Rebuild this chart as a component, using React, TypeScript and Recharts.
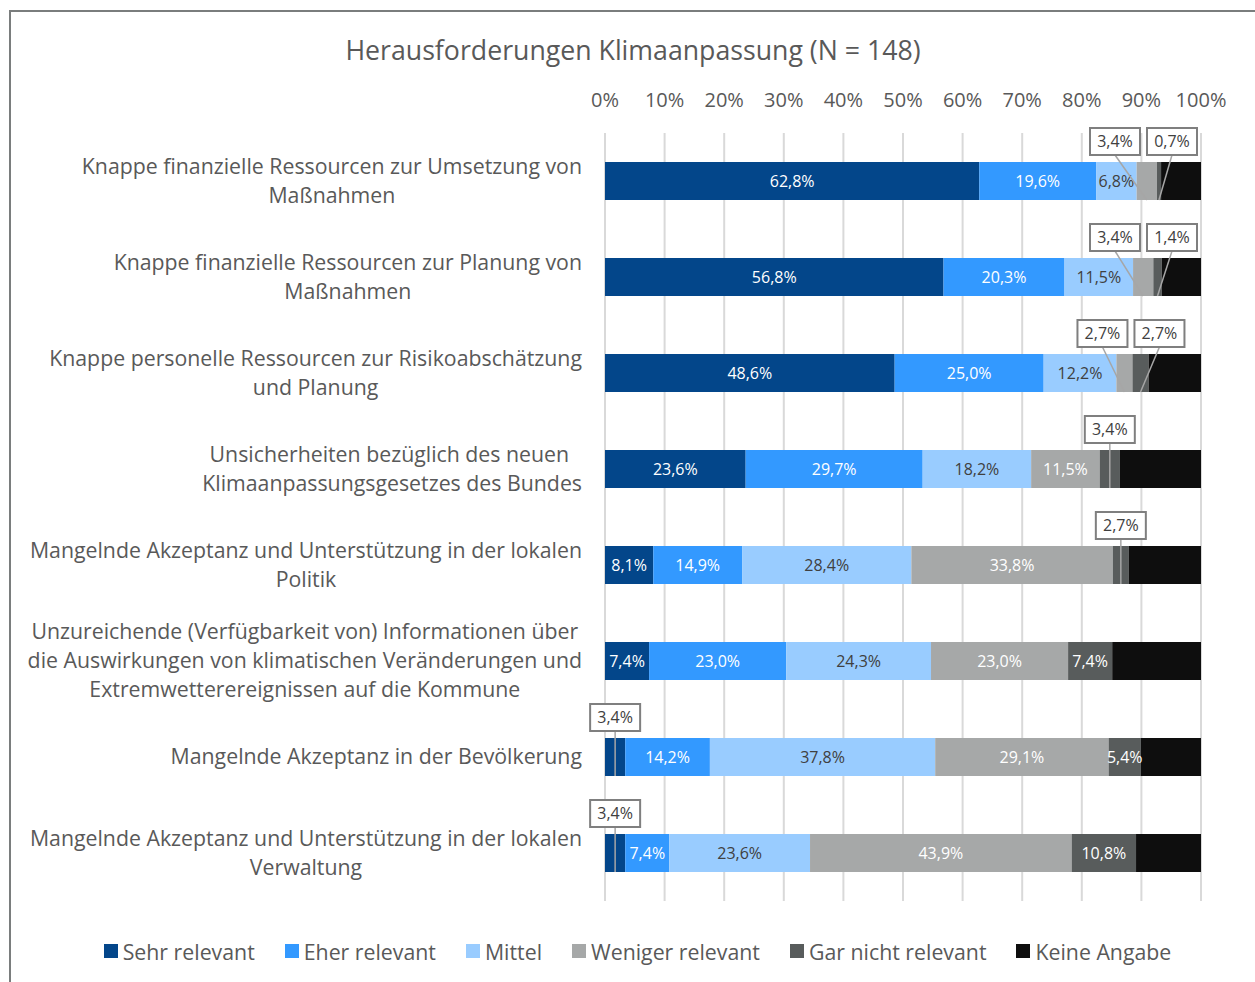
import React from "react";
import { BarChart, Bar, XAxis, YAxis, CartesianGrid, Legend, LabelList } from "recharts";

const categories = [
  "Knappe finanzielle Ressourcen zur Umsetzung von\nMaßnahmen",
  "Knappe finanzielle Ressourcen zur Planung von\nMaßnahmen",
  "Knappe personelle Ressourcen zur Risikoabschätzung\nund Planung",
  "Unsicherheiten bezüglich des neuen \nKlimaanpassungsgesetzes des Bundes",
  "Mangelnde Akzeptanz und Unterstützung in der lokalen\nPolitik",
  "Unzureichende (Verfügbarkeit von) Informationen über\ndie Auswirkungen von klimatischen Veränderungen und\nExtremwetterereignissen auf die Kommune",
  "Mangelnde Akzeptanz in der Bevölkerung",
  "Mangelnde Akzeptanz und Unterstützung in der lokalen\nVerwaltung",
];
const sehrRelevant = [62.8, 56.8, 48.6, 23.6, 8.1, 7.4, 3.4, 3.4];
const eherRelevant = [19.6, 20.3, 25.0, 29.7, 14.9, 23.0, 14.2, 7.4];
const mittel = [6.8, 11.5, 12.2, 18.2, 28.4, 24.3, 37.8, 23.6];
const wenigerRelevant = [3.4, 3.4, 2.7, 11.5, 33.8, 23.0, 29.1, 43.9];
const garNichtRelevant = [0.7, 1.4, 2.7, 3.4, 2.7, 7.4, 5.4, 10.8];
const keineAngabe = [6.7, 6.6, 8.8, 13.6, 12.1, 14.9, 10.1, 10.9];

const seriesKeys = ["sehr", "eher", "mittel", "weniger", "gar", "keine"];
const seriesNames = ["Sehr relevant", "Eher relevant", "Mittel", "Weniger relevant", "Gar nicht relevant", "Keine Angabe"];
const seriesColors = ["#03468a", "#3399ff", "#99ccff", "#a6a8a8", "#585c5c", "#0e0e0e"];
const labelColors = ["#ffffff", "#ffffff", "#404040", "#ffffff", "#ffffff", "#ffffff"];
const seriesArrays = [sehrRelevant, eherRelevant, mittel, wenigerRelevant, garNichtRelevant, keineAngabe];
const xTicks = [0, 10, 20, 30, 40, 50, 60, 70, 80, 90, 100];

const title = "Herausforderungen Klimaanpassung (N = 148)";

const data = categories.map((name, i) => {
  const row: any = { name };
  seriesKeys.forEach((k, j) => (row[k] = seriesArrays[j][i]));
  return row;
});

const W = 1255;
const H = 982;
const PLOT_LEFT = 605;
const PLOT_RIGHT = 1201;
const PLOT_TOP = 133;
const PLOT_BOTTOM = 901;
const FONT = '"Open Sans", "Noto Sans", sans-serif';
const TEXT = "#595959";
const CALLOUT_LIMIT = 5;
const CAT_SIZE = 21.3;

const fmt = (v: number) => v.toFixed(1).replace(".", ",") + "%";

let ctx: CanvasRenderingContext2D | null = null;
function measure(s: string, size: number) {
  if (!ctx) ctx = document.createElement("canvas").getContext("2d");
  if (!ctx) return s.length * size * 0.53;
  ctx.font = `${size}px "Open Sans"`;
  return ctx.measureText(s).width;
}

const YTick = (props: any) => {
  const { y, payload } = props;
  const lines = String(payload.value).split("\n");
  const maxW = Math.max(...lines.map((l) => measure(l, CAT_SIZE)));
  const cx = PLOT_LEFT - 23 - maxW / 2;
  const lh = 29;
  const y0 = y - ((lines.length - 1) * lh) / 2;
  return (
    <text textAnchor="middle" fill={TEXT} fontSize={CAT_SIZE} fontFamily={FONT}>
      {lines.map((l, i) => (
        <tspan key={i} x={cx} y={y0 + i * lh} dy="0.35em" style={{ whiteSpace: "pre" }}>
          {l}
        </tspan>
      ))}
    </text>
  );
};

const XTick = (props: any) => {
  const { x, payload } = props;
  return (
    <text x={x} y={PLOT_TOP - 33} dy="0.35em" textAnchor="middle" fill={TEXT} fontSize={20} fontFamily={FONT}>
      {payload.value}%
    </text>
  );
};

const getBox = (props: any) => {
  const vb = props.viewBox && props.viewBox.width !== undefined ? props.viewBox : props;
  return { x: Number(vb.x), y: Number(vb.y), width: Number(vb.width), height: Number(vb.height) };
};

const makeInnerLabel = (j: number) => (props: any) => {
  const { index } = props;
  const v = seriesArrays[j][index];
  if (v === undefined || v < CALLOUT_LIMIT) return null;
  const { x, y, width, height } = getBox(props);
  return (
    <text
      x={x + width / 2}
      y={y + height / 2}
      dy="0.35em"
      textAnchor="middle"
      fill={labelColors[j]}
      fontSize={16}
      fontFamily={FONT}
    >
      {fmt(v)}
    </text>
  );
};

const CalloutLabels = (props: any) => {
  const { index } = props;
  const { x, y, width, height } = getBox(props);
  const k = keineAngabe[index];
  const ppp = width / k;
  const left = x - ppp * (100 - k);
  const right = left + ppp * 100;
  const vals = seriesArrays.slice(0, 5).map((a) => a[index]);
  const cum: number[] = [];
  let s = 0;
  vals.forEach((v) => {
    cum.push(s);
    s += v;
  });
  const small = vals.map((v, j) => j).filter((j) => vals[j] < CALLOUT_LIMIT);
  const boxes: { j: number; bc: number }[] = [];
  if (small.length === 2 && small[1] - small[0] === 1) {
    const boundary = left + ppp * cum[small[1]];
    const rc = Math.min(boundary + 27, right - 29);
    boxes.push({ j: small[0], bc: rc - 57 });
    boxes.push({ j: small[1], bc: rc });
  } else {
    small.forEach((j) => boxes.push({ j, bc: left + ppp * (cum[j] + vals[j] / 2) }));
  }
  return (
    <g>
      {boxes.map(({ j, bc }) => {
        const sc = left + ppp * (cum[j] + vals[j] / 2);
        return (
          <g key={j}>
            <line x1={bc} y1={y - 7} x2={sc} y2={y + height} stroke="#a6a6a6" strokeWidth={1.5} />
            <rect x={bc - 25} y={y - 34} width={50} height={27} fill="#ffffff" stroke="#7f7f7f" strokeWidth={2} />
            <text x={bc} y={y - 20.5} dy="0.35em" textAnchor="middle" fill="#404040" fontSize={16} fontFamily={FONT}>
              {fmt(vals[j])}
            </text>
          </g>
        );
      })}
    </g>
  );
};

const LegendContent = () => (
  <div
    style={{
      display: "flex",
      justifyContent: "center",
      alignItems: "center",
      gap: 30,
      fontFamily: FONT,
      fontSize: CAT_SIZE,
      color: TEXT,
      paddingLeft: 20,
      height: 38,
    }}
  >
    {seriesNames.map((n, j) => (
      <div key={n} style={{ display: "flex", alignItems: "center", gap: 5 }}>
        <span style={{ width: 14, height: 14, background: seriesColors[j], display: "inline-block" }} />
        <span>{n}</span>
      </div>
    ))}
  </div>
);

export default function App() {
  return (
    <div style={{ position: "fixed", left: 0, top: 0, width: W, height: H, overflow: "hidden", background: "#fff" }}>
      <div
        style={{
          position: "absolute",
          left: 9,
          top: 10,
          width: 1400,
          height: 1100,
          borderLeft: "2px solid #7a7d7d",
          borderTop: "2px solid #7a7d7d",
        }}
      />
      <div
        style={{
          position: "absolute",
          left: 0,
          top: 33,
          width: 1266,
          textAlign: "center",
          fontFamily: FONT,
          fontSize: 26.7,
          color: TEXT,
          lineHeight: "34px",
        }}
      >
        {title}
      </div>
      <div style={{ position: "absolute", left: 0, top: 0 }}>
        <BarChart
          width={W}
          height={H}
          data={data}
          layout="vertical"
          barSize={38}
          margin={{ top: PLOT_TOP - 30, right: W - PLOT_RIGHT, bottom: H - PLOT_BOTTOM - 40, left: 0 }}
        >
          <CartesianGrid horizontal={false} stroke="#d9d9d9" strokeWidth={2} />
          <XAxis
            type="number"
            domain={[0, 100]}
            ticks={xTicks}
            orientation="top"
            height={30}
            axisLine={false}
            tickLine={false}
            tick={<XTick />}
            interval={0}
          />
          <YAxis
            type="category"
            dataKey="name"
            width={PLOT_LEFT}
            axisLine={false}
            tickLine={false}
            tick={<YTick />}
            interval={0}
          />
          <Legend
            verticalAlign="bottom"
            height={40}
            content={<LegendContent />}
            wrapperStyle={{ position: "absolute", top: 932, bottom: "auto", left: 0, width: W, height: 40 }}
          />
          {seriesKeys.map((k, j) => (
            <Bar key={k} dataKey={k} name={seriesNames[j]} stackId="a" fill={seriesColors[j]} isAnimationActive={false}>
              {j < 5 ? (
                <LabelList dataKey={k} content={makeInnerLabel(j)} />
              ) : (
                <LabelList dataKey={k} content={<CalloutLabels />} />
              )}
            </Bar>
          ))}
        </BarChart>
      </div>
    </div>
  );
}
